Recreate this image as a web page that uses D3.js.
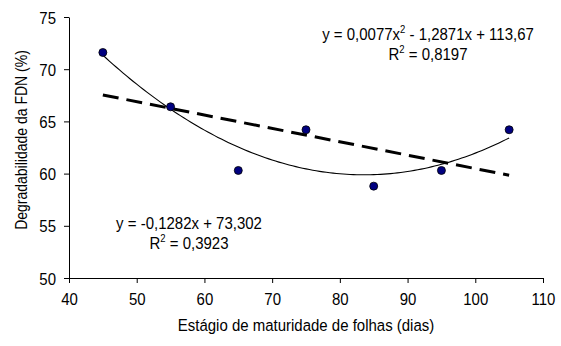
<!DOCTYPE html>
<html>
<head>
<meta charset="utf-8">
<script src="https://cdn.jsdelivr.net/npm/d3@7"></script>
<style>
  body { margin: 0; background: #fff; }
  text { font-family: "Liberation Sans", Arial, sans-serif; fill: #000; }
</style>
</head>
<body>
<div id="chart"></div>
<script>
// observed points
var days = [45, 55, 65, 75, 85, 95, 105];
var degr = [71.6, 66.4, 60.3, 64.2, 58.8, 60.3, 64.2];

// trendline coefficients as printed on the chart (c0 + c1*x + c2*x^2)
var quadCoef = [113.67, -1.2871, 0.0077];
var linCoef = [73.302, -0.1282];

var xTicks = [40, 50, 60, 70, 80, 90, 100, 110];
var yTicks = [50, 55, 60, 65, 70, 75];

var width = 561, height = 346;
var margin = {top: 17, right: 18, bottom: 68, left: 69};
var stretch = 1.12; // glyphs in the original look a bit taller than wide

var svg = d3.select("#chart").append("svg")
  .attr("width", width)
  .attr("height", height);

var x = d3.scaleLinear().domain([40, 110]).range([margin.left, width - margin.right]);
var y = d3.scaleLinear().domain([50, 75]).range([height - margin.bottom, margin.top]);

// axes
svg.append("g")
  .attr("transform", "translate(0," + (height - margin.bottom) + ")")
  .call(d3.axisBottom(x).tickValues(xTicks).tickSize(5).tickSizeOuter(0))
  .selectAll(".tick text")
  .attr("y", 0).attr("dy", 0)
  .attr("transform", "translate(0,27) scale(1," + stretch + ")");

svg.append("g")
  .attr("transform", "translate(" + margin.left + ",0)")
  .call(d3.axisLeft(y).tickValues(yTicks).tickSize(5).tickSizeOuter(0))
  .selectAll(".tick text")
  .attr("x", 0).attr("dy", 0)
  .attr("transform", "translate(-13,6) scale(1," + stretch + ")");

svg.selectAll(".domain, .tick line").attr("stroke", "#000");
svg.selectAll(".tick text")
  .style("font-size", "15px")
  .style("font-family", "'Liberation Sans', Arial, sans-serif");

// trend lines
var xs = d3.range(45, 105.01, 0.5);
var line = d3.line().x(function(d) { return x(d[0]); }).y(function(d) { return y(d[1]); });

svg.append("path")
  .datum([[45, linCoef[0] + linCoef[1] * 45], [105, linCoef[0] + linCoef[1] * 105]])
  .attr("d", line)
  .attr("fill", "none")
  .attr("stroke", "#000")
  .attr("stroke-width", 3)
  .attr("stroke-dasharray", "16,8");

svg.append("path")
  .datum(xs.map(function(v) { return [v, quadCoef[0] + quadCoef[1] * v + quadCoef[2] * v * v]; }))
  .attr("d", line)
  .attr("fill", "none")
  .attr("stroke", "#000")
  .attr("stroke-width", 1.1);

// points
svg.selectAll(".pt")
  .data(days)
  .enter().append("circle")
  .attr("class", "pt")
  .attr("cx", function(d) { return x(d); })
  .attr("cy", function(d, i) { return y(degr[i]); })
  .attr("r", 4)
  .attr("fill", "#000080")
  .attr("stroke", "#000")
  .attr("stroke-width", 0.8);

// text helper: baseline at (tx, ty), stretched vertically
function label(tx, ty, size, rot) {
  return svg.append("text")
    .attr("transform", "translate(" + tx + "," + ty + ")" + (rot ? " rotate(" + rot + ")" : "") +
      " scale(1," + stretch + ")")
    .attr("text-anchor", "middle")
    .style("font-size", size + "px");
}

// equations
function eq(cx, cy, first, r2) {
  var t1 = label(cx, cy, 15);
  t1.append("tspan").text(first[0]);
  if (first.length > 1) {
    t1.append("tspan").attr("dy", -6.5).style("font-size", "9.5px").text("2");
    t1.append("tspan").attr("dy", 6.5).text(first[1]);
  }
  var t2 = label(cx, cy + 20, 15);
  t2.append("tspan").text("R");
  t2.append("tspan").attr("dy", -6.5).style("font-size", "9.5px").text("2");
  t2.append("tspan").attr("dy", 6.5).text(" = " + r2);
}
eq(428, 40, ["y = 0,0077x", " - 1,2871x + 113,67"], "0,8197");
eq(189, 229, ["y = -0,1282x + 73,302"], "0,3923");

// axis titles
label(x(75), 331, 15).text("Estágio de maturidade de folhas (dias)");
label(27, 140, 14, -90).text("Degradabilidade da FDN (%)");
</script>
</body>
</html>
